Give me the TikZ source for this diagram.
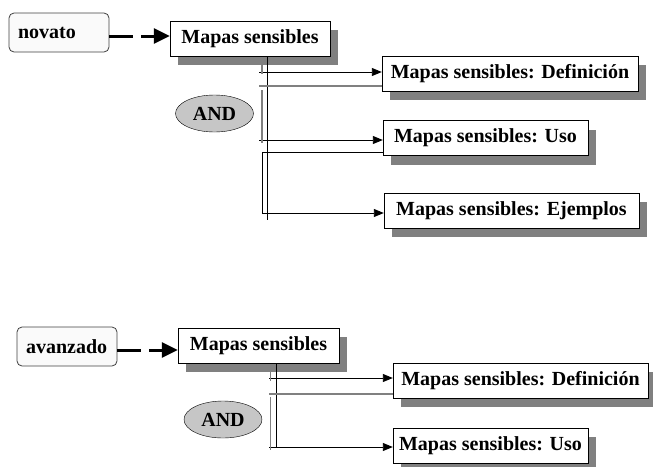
\documentclass[tikz,border=0pt]{standalone}
\usepackage{fontspec}
\setmainfont{Liberation Serif}
\usetikzlibrary{shapes, arrows.meta, positioning, shadows}

\begin{document}
\begin{tikzpicture}[x=1pt, y=-1pt, font=\fontsize{20}{23}\selectfont\bfseries,
    >={Triangle[length=10pt, width=8pt]},
    role/.style={rectangle, rounded corners=5pt, draw=black!75, line width=0.8pt, fill=gray!4, text width=82pt, align=left, inner xsep=9pt, inner ysep=0pt, minimum height=39pt},
    topic/.style={rectangle, draw, fill=white, inner sep=0pt, minimum height=35pt, drop shadow={shadow xshift=8pt, shadow yshift=-9pt, fill=black!50, opacity=1}},
    andnode/.style={ellipse, draw, fill=gray!45, inner sep=0pt, minimum width=78pt, minimum height=37pt},
    link/.style={->, line width=0.9pt},
    stem/.style={line width=0.9pt},
    andline/.style={draw=black!50, line width=1.2pt},
    jump/.style={-{Triangle[length=16pt, width=15pt]}, line width=3pt, dash pattern=on 24pt off 8pt}]
    \useasboundingbox (0,0) rectangle (653,466);

    % novato
    \node (novato) [role] at (59,32.5) {novato};
    \node (mapasA) [topic, minimum width=160pt] at (250,38.5) {Mapas sensibles};
    \node (defA) [topic, minimum width=256pt] at (510,73.5) {Mapas sensibles: Definici\'on};
    \node (usoA) [topic, minimum width=205pt] at (485.5,138) {Mapas sensibles: Uso};
    \node (ejA) [topic, minimum width=255pt] at (511.5,210.5) {Mapas sensibles: Ejemplos};
    \node (andA) [andnode] at (214.5,113.5) {AND};

    \coordinate (jA) at (0,36);
    \draw [jump] (novato.east |- jA) -- (mapasA.west |- jA);

    \coordinate (trunkA) at (267,56);
    \coordinate (endA) at (267,220);
    \draw [stem] (trunkA) -- (endA);

    \coordinate (inA1) at (259,72);
    \coordinate (inA2) at (259,140);
    \coordinate (loopA) at (262,152);
    \coordinate (loopB) at (262,213);
    \draw [link] (inA1) -- (inA1 -| defA.west);
    \draw [link] (inA2) -- (inA2 -| usoA.west);
    \draw [link] (loopA -| usoA.west) -- (loopA) -- (loopB) -- (loopB -| ejA.west);

    \coordinate (grA) at (259,86);
    \draw [andline] (262,59) -- (262,74);
    \draw [andline] (grA) -- (grA -| defA.west);
    \draw [andline] (262,90) -- (262,143);

    % avanzado
    \node (avanzado) [role] at (67,346.5) {avanzado};
    \node (mapasB) [topic, minimum width=161pt] at (258.5,345.5) {Mapas sensibles};
    \node (defB) [topic, minimum width=255pt] at (520.5,380.5) {Mapas sensibles: Definici\'on};
    \node (usoB) [topic, minimum width=195pt] at (490.5,445.5) {Mapas sensibles: Uso};
    \node (andB) [andnode] at (223,419.5) {AND};

    \coordinate (jB) at (0,350);
    \draw [jump] (avanzado.east |- jB) -- (mapasB.west |- jB);

    \coordinate (trunkB) at (276.5,363);
    \coordinate (endB) at (276.5,448);
    \draw [stem] (trunkB) -- (endB);

    \coordinate (inB1) at (269,378);
    \coordinate (inB2) at (269,447);
    \draw [link] (inB1) -- (inB1 -| defB.west);
    \draw [link] (inB2) -- (inB2 -| usoB.west);

    \coordinate (grB) at (269,394);
    \draw [andline] (270.5,367) -- (270.5,381);
    \draw [andline] (grB) -- (grB -| defB.west);
    \draw [andline] (270.5,397) -- (270.5,450);
\end{tikzpicture}
\end{document}
